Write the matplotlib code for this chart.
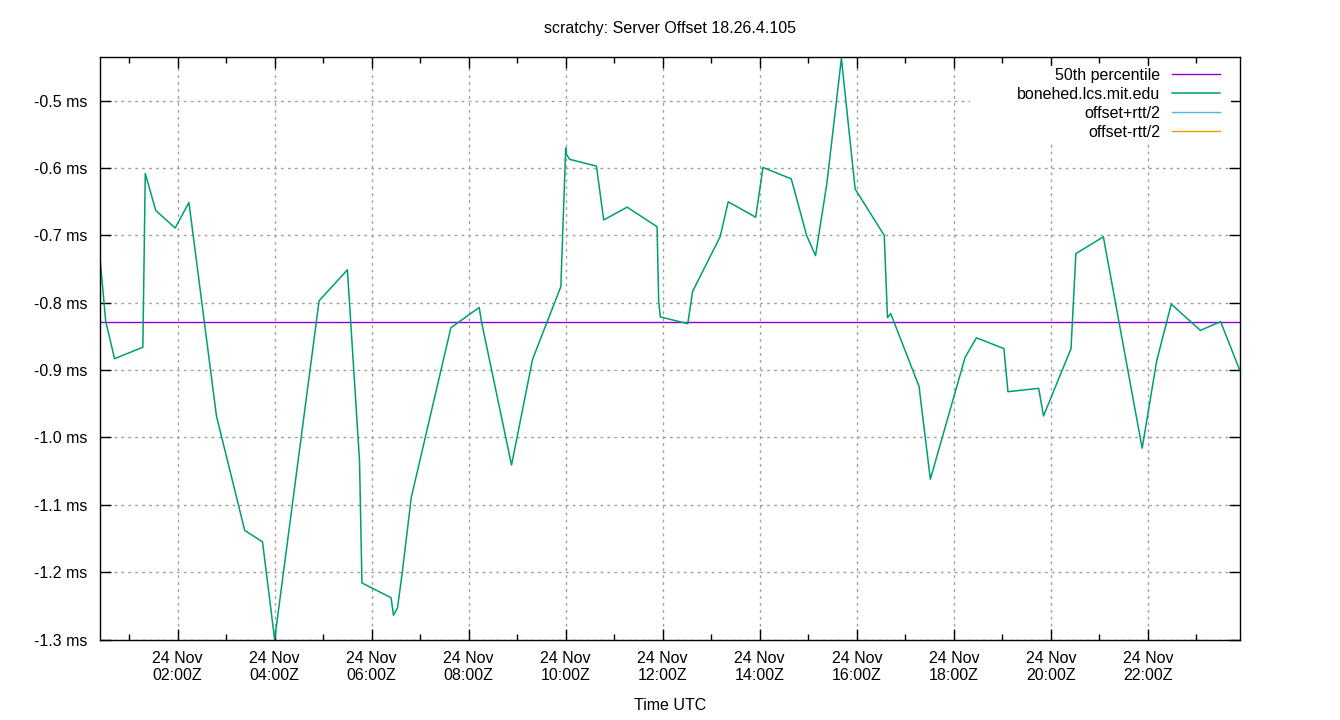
import matplotlib
matplotlib.use("Agg")
import matplotlib.pyplot as plt
import matplotlib.dates as mdates
from matplotlib.patches import Rectangle
from matplotlib.ticker import FuncFormatter, MultipleLocator
import pandas as pd

plt.rcParams['font.family'] = ['Liberation Sans', 'DejaVu Sans']
plt.rcParams['font.size'] = 11.5

day = "2019-11-24 "

# sample times (UTC) and server offset in ms
times = ["00:24", "00:31", "00:42", "01:17", "01:20", "01:33", "01:57", "02:14",
         "02:48", "03:23", "03:45", "04:00", "04:55", "05:30", "05:45", "05:48",
         "06:24", "06:27", "06:32", "06:38", "06:49", "07:38", "08:13", "08:16",
         "08:53", "09:19", "09:54", "10:00", "10:01", "10:05", "10:38", "10:47",
         "11:16", "11:53", "11:55", "11:57", "12:31", "12:37", "13:11", "13:21",
         "13:55", "14:04", "14:39", "14:58", "15:09", "15:23", "15:41", "15:58",
         "16:34", "16:36", "16:38", "16:42", "17:17", "17:31", "18:14", "18:28",
         "19:02", "19:07", "19:45", "19:51", "20:25", "20:31", "21:05", "21:53",
         "22:11", "22:29", "23:05", "23:30", "23:54"]
offset_ms = [-0.733, -0.827, -0.883, -0.866, -0.608, -0.663, -0.689, -0.651,
             -0.968, -1.138, -1.155, -1.300, -0.797, -0.751, -1.035, -1.216,
             -1.238, -1.264, -1.253, -1.199, -1.089, -0.837, -0.807, -0.829,
             -1.041, -0.884, -0.776, -0.570, -0.580, -0.587, -0.597, -0.677,
             -0.658, -0.687, -0.797, -0.821, -0.831, -0.783, -0.702, -0.650,
             -0.673, -0.599, -0.616, -0.700, -0.730, -0.623, -0.437, -0.631,
             -0.700, -0.762, -0.822, -0.816, -0.924, -1.062, -0.881, -0.852,
             -0.868, -0.932, -0.927, -0.968, -0.868, -0.727, -0.702, -1.016,
             -0.886, -0.802, -0.841, -0.828, -0.901]
median_ms = -0.828

t = pd.to_datetime([day + s for s in times])

fig = plt.figure(figsize=(13.4, 7.2), dpi=100)
ax = fig.add_axes([100 / 1340, 1 - 639.5 / 720, 1140 / 1340, 582.5 / 720])

ax.axhline(median_ms, color='#9400d3', lw=1.0, label='50th percentile')
ax.plot(t, offset_ms, color='#009e73', lw=1.1, label='bonehed.lcs.mit.edu')
ax.plot([], [], color='#56b4e9', lw=1.0, label='offset+rtt/2')
ax.plot([], [], color='#e69f00', lw=1.0, label='offset-rtt/2')

ax.set_xlim(t[0], t[-1])
ax.set_ylim(-1.3, -0.435)

ax.xaxis.set_major_locator(mdates.HourLocator(byhour=range(0, 24, 2)))
ax.xaxis.set_minor_locator(mdates.HourLocator())
ax.xaxis.set_major_formatter(mdates.DateFormatter('%d %b\n%H:%MZ'))
ax.yaxis.set_major_locator(MultipleLocator(0.1))
ax.yaxis.set_major_formatter(FuncFormatter(lambda v, p: '%.1f ms' % v))

ax.tick_params(which='both', direction='in', top=True, right=True, color='black')
ax.tick_params(which='major', length=8, width=1)
ax.tick_params(which='minor', length=4, width=1)
ax.tick_params(axis='x', pad=8)
ax.tick_params(axis='y', pad=9)

ax.grid(which='major', color='#a0a0a0', linestyle=(0, (2, 3)), lw=1)
for s in ax.spines.values():
    s.set_linewidth(1)

# gnuplot blanks the grid behind the key
ax.add_patch(Rectangle((0.763, 0.852), 0.229, 0.133, transform=ax.transAxes,
                       facecolor='white', edgecolor='none', zorder=1.7))

ax.legend(loc='upper right', markerfirst=False, frameon=False,
          handlelength=3.0, handletextpad=0.75, labelspacing=0.25,
          borderpad=0, borderaxespad=0, bbox_to_anchor=(0.9825, 0.981))

fig.text(0.5, 1 - 28 / 720, 'scratchy: Server Offset 18.26.4.105',
         ha='center', va='center')
fig.text(0.5, 1 - 706 / 720, 'Time UTC', ha='center', va='center')

fig.savefig('out.png', dpi=100)
